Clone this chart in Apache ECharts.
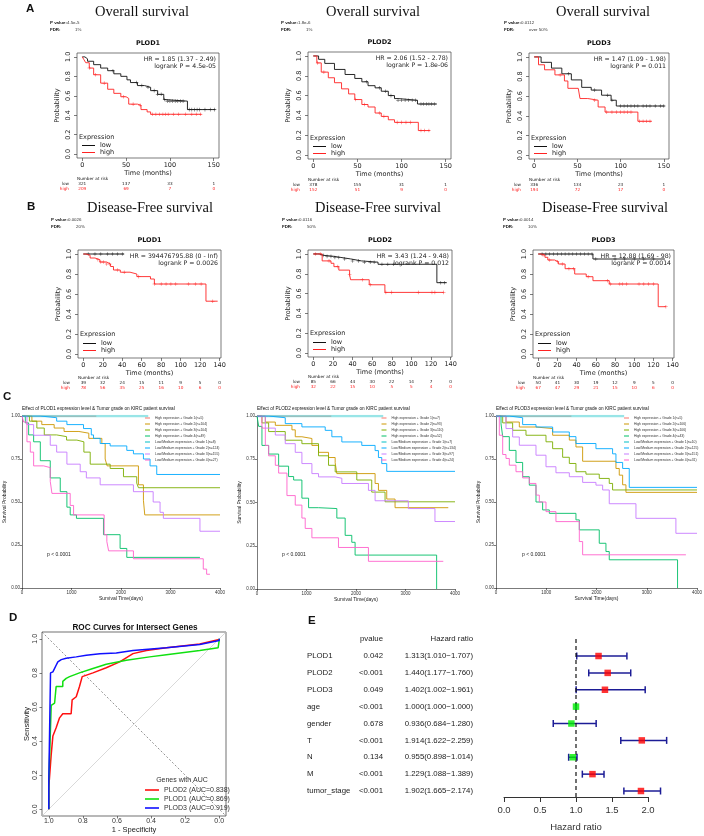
<!DOCTYPE html>
<html><head><meta charset="utf-8">
<script src="https://cdn.jsdelivr.net/npm/echarts@6/dist/echarts.min.js"></script>
<style>html,body{margin:0;padding:0;background:#fff}#c{width:704px;height:836px}</style>
</head><body><div id="c"></div>
<script>
// ================= DATA =================
// Panel A – Overall survival (months, probability)
const kmTicksA = [0, 50, 100, 150];
const kmTicksB = [0, 20, 40, 60, 80, 100, 120, 140];
const probTicks = [0, 0.2, 0.4, 0.6, 0.8, 1.0];

const osLowPLOD1 = [[0,1],[3,0.98],[6,0.955],[13,0.92],[21,0.885],[29,0.858],[36,0.826],[44,0.80],[51,0.764],[55,0.736],[63,0.705],[71,0.687],[78,0.653],[86,0.615],[93,0.562],[95,0.545],[120,0.458],[152,0.458]];
const osHighPLOD1 = [[0,1],[2,0.97],[4,0.94],[8,0.885],[13,0.816],[21,0.73],[29,0.667],[36,0.625],[44,0.59],[50,0.573],[53,0.514],[63,0.503],[67,0.458],[74,0.434],[78,0.41],[136,0.41]];
const osLowPLOD2 = [[0,1],[6,0.966],[13,0.925],[24,0.864],[36,0.813],[47,0.773],[55,0.739],[62,0.70],[70,0.678],[77,0.644],[85,0.60],[92,0.57],[96,0.553],[118,0.515],[140,0.515]];
const osHighPLOD2 = [[0,1],[4,0.93],[9,0.837],[17,0.78],[24,0.73],[32,0.668],[40,0.617],[47,0.56],[55,0.51],[62,0.485],[70,0.424],[77,0.39],[85,0.356],[92,0.33],[119,0.247],[132,0.247]];
const osLowPLOD3 = [[0,1],[8,0.945],[20,0.886],[32,0.828],[43,0.766],[55,0.69],[66,0.662],[78,0.61],[89,0.559],[95,0.50],[151,0.50]];
const osHighPLOD3 = [[0,1],[5,0.92],[12,0.869],[24,0.817],[35,0.755],[39,0.68],[51,0.662],[53,0.576],[62,0.559],[74,0.49],[82,0.438],[120,0.345],[136,0.345]];

const osCensLowPLOD1 = [35,62,68,75,82,86,90,94,97,100,103,106,109,112,115,122,125,128,131,134,140,146,151];
const osCensHighPLOD1 = [8,15,25,47,58,66,80,84,88,92,95,98,104,110,118,125,130,135];
const osCensLowPLOD2 = [60,75,82,88,96,100,104,108,112,116,122,125,128,131,134,137];
const osCensHighPLOD2 = [5,12,48,58,75,80,95,100,105,110,122,126,131];
const osCensLowPLOD3 = [40,70,85,90,100,104,108,112,116,120,126,130,134,140,146,150];
const osCensHighPLOD3 = [30,70,84,90,95,100,104,108,112,122,126,130,134];

const osRiskLowPLOD1 = [321,137,33,1], osRiskHighPLOD1 = [209,69,7,0];
const osRiskLowPLOD2 = [378,155,31,1], osRiskHighPLOD2 = [152,51,9,0];
const osRiskLowPLOD3 = [336,134,23,1], osRiskHighPLOD3 = [194,72,17,0];

const osPvalues = ['4.5e-5','1.8e-6','0.0112'];
const osFdr = ['1%','1%','over 50%'];
const osHrText = ['HR = 1.85 (1.37 - 2.49)','HR = 2.06 (1.52 - 2.78)','HR = 1.47 (1.09 - 1.98)'];
const osLogrank = ['logrank P = 4.5e-05','logrank P = 1.8e-06','logrank P = 0.011'];

// Panel B – Disease-free survival
const dfsLowPLOD1 = [[0,1],[42,1]];
const dfsHighPLOD1 = [[0,1],[3,0.987],[7,0.96],[12,0.943],[17,0.92],[24,0.90],[28,0.875],[31,0.84],[38,0.818],[48,0.80],[55,0.774],[69,0.75],[73,0.70],[126,0.528],[138,0.528]];
const dfsLowPLOD2 = [[0,1],[6,0.986],[11,0.976],[21,0.965],[28,0.95],[38,0.93],[49,0.917],[66,0.896],[126,0.71],[136,0.71]];
const dfsHighPLOD2 = [[0,1],[9,0.93],[18,0.906],[21,0.872],[26,0.837],[37,0.79],[38,0.74],[57,0.689],[73,0.612],[133,0.612]];
const dfsLowPLOD3 = [[0,1],[57,0.95],[132,0.95]];
const dfsHighPLOD3 = [[0,1],[3,0.99],[7,0.967],[10,0.94],[17,0.923],[21,0.90],[28,0.853],[38,0.80],[50,0.773],[57,0.733],[74,0.70],[125,0.473],[133,0.473]];

const dfsCensLowPLOD1 = [5,12,18,25,30,35,40];
const dfsCensHighPLOD1 = [15,18,21,24,27,35,42,57,73,80,85,90,95,108,115,121,133];
const dfsCensLowPLOD2 = [10,14,18,22,26,32,40,46,52,58,62,70,76,82,130,134];
const dfsCensHighPLOD2 = [2,7,16,25,37,50,58,74,80,107,121,124,133];
const dfsCensLowPLOD3 = [4,8,12,16,20,24,28,32,36,40,44,48,52,56,60,80,90,100,110,120];
const dfsCensHighPLOD3 = [5,12,20,25,32,37,52,72,75,85,88,92,105,110,115,120,133];

const dfsRiskLowPLOD1 = [39,32,24,15,11,9,5,0], dfsRiskHighPLOD1 = [78,56,35,25,16,10,6,0];
const dfsRiskLowPLOD2 = [85,66,44,30,22,14,7,0], dfsRiskHighPLOD2 = [32,22,15,10,5,5,4,0];
const dfsRiskLowPLOD3 = [50,41,30,19,12,9,5,0], dfsRiskHighPLOD3 = [67,47,29,21,15,10,6,0];

const dfsPvalues = ['0.0026','0.0116','0.0014'];
const dfsFdr = ['20%','50%','10%'];
const dfsHrText = ['HR = 394476795.88 (0 - Inf)','HR = 3.43 (1.24 - 9.48)','HR = 12.88 (1.69 - 98)'];
const dfsLogrank = ['logrank P = 0.0026','logrank P = 0.012','logrank P = 0.0014'];

const genes = ['PLOD1','PLOD2','PLOD3'];

// Panel C – expression & grade (days, probability); order: High G1..G4, Low/Medium G1..G4
const c1HighG1 = [[0,1],[1500,1]];
const c1HighG2 = [[0,1],[200,0.97],[400,0.95],[650,0.93],[850,0.91],[1150,0.90],[1350,0.87],[1613,0.84],[1680,0.75],[1720,0.71],[2352,0.60],[2453,0.51],[2480,0.425],[4000,0.425]];
const c1HighG3 = [[0,1],[150,0.97],[300,0.93],[450,0.89],[700,0.88],[900,0.86],[1109,0.85],[1250,0.79],[1378,0.72],[1781,0.695],[2050,0.647],[2318,0.61],[2352,0.583],[4000,0.583]];
const c1HighG4 = [[0,1],[67,0.96],[134,0.89],[235,0.85],[370,0.74],[571,0.64],[773,0.56],[907,0.47],[974,0.425],[1100,0.405],[1646,0.31],[1982,0.23],[2117,0.178],[3595,0.178]];
const c1LowG1 = [[0,1],[2550,1]];
const c1LowG2 = [[0,1],[370,0.99],[700,0.97],[907,0.95],[1243,0.927],[1400,0.89],[1445,0.87],[1579,0.84],[1781,0.826],[2117,0.80],[2251,0.78],[2453,0.75],[2587,0.71],[2722,0.66],[4000,0.66]];
const c1LowG3 = [[0,1],[100,0.95],[235,0.888],[571,0.83],[700,0.79],[907,0.72],[1176,0.676],[1300,0.64],[1579,0.60],[2251,0.56],[2650,0.50],[2789,0.44],[2856,0.405],[3595,0.33],[4000,0.33]];
const c1LowG4 = [[0,1],[34,0.965],[100,0.85],[168,0.79],[235,0.71],[437,0.70],[571,0.62],[605,0.55],[974,0.48],[1042,0.425],[1660,0.31],[1714,0.27],[1750,0.216],[2251,0.17],[3662,0.11],[3730,0.08],[3797,0.08]];

const c2HighG1 = [[0,1],[1500,1]];
const c2HighG2 = [[0,1],[168,0.965],[370,0.946],[706,0.92],[773,0.88],[907,0.87],[1109,0.83],[1243,0.79],[1445,0.76],[1579,0.73],[1613,0.667],[2386,0.61],[2453,0.57],[2621,0.52],[2789,0.47],[3864,0.47]];
const c2HighG3 = [[0,1],[100,0.96],[235,0.91],[571,0.86],[907,0.84],[1243,0.77],[1445,0.715],[1579,0.677],[2016,0.63],[2318,0.56],[2587,0.504],[4000,0.504]];
const c2HighG4 = [[0,1],[34,0.94],[100,0.83],[235,0.78],[437,0.71],[638,0.65],[740,0.63],[907,0.525],[1042,0.47],[1243,0.465],[1613,0.41],[1781,0.31],[1915,0.27],[1982,0.196],[3629,0.0]];
const c2LowG1 = [[0,1],[2550,1]];
const c2LowG2 = [[0,1],[235,0.99],[571,0.956],[907,0.937],[1378,0.917],[1512,0.88],[1714,0.85],[2117,0.83],[2386,0.80],[2453,0.76],[2520,0.725],[2621,0.68],[4000,0.68]];
const c2LowG3 = [[0,1],[168,0.93],[370,0.89],[571,0.84],[773,0.79],[907,0.725],[1109,0.667],[1243,0.648],[1579,0.64],[1714,0.61],[2251,0.57],[2386,0.51],[3057,0.465],[3595,0.39],[4000,0.39]];
const c2LowG4 = [[0,1],[100,0.93],[168,0.83],[235,0.77],[370,0.715],[437,0.67],[605,0.54],[773,0.485],[907,0.41],[974,0.35],[1109,0.296],[1646,0.24],[2251,0.16],[3763,0.16]];

const c3HighG1 = [[0,1],[1500,1]];
const c3HighG2 = [[0,1],[199,0.965],[464,0.936],[796,0.927],[1127,0.888],[1459,0.86],[1591,0.82],[1724,0.737],[2387,0.695],[2453,0.656],[2520,0.60],[2586,0.556],[4000,0.556]];
const c3HighG3 = [[0,1],[133,0.96],[331,0.917],[597,0.888],[995,0.85],[1127,0.81],[1326,0.76],[1459,0.724],[1591,0.676],[1790,0.662],[2055,0.637],[2254,0.608],[2320,0.57],[4000,0.57]];
const c3HighG4 = [[0,1],[100,0.955],[133,0.88],[265,0.80],[398,0.73],[530,0.647],[663,0.598],[796,0.50],[928,0.454],[1061,0.434],[1591,0.396],[1658,0.338],[2055,0.26],[2188,0.212],[2254,0.164],[3613,0.0]];
const c3LowG1 = [[0,1],[2550,1]];
const c3LowG2 = [[0,1],[265,0.99],[530,0.95],[796,0.936],[1127,0.907],[1459,0.88],[1591,0.84],[1989,0.81],[2320,0.78],[2387,0.73],[2520,0.695],[2652,0.585],[4000,0.585]];
const c3LowG3 = [[0,1],[199,0.927],[331,0.878],[464,0.83],[796,0.772],[995,0.705],[1193,0.67],[1459,0.647],[1724,0.614],[1989,0.598],[2122,0.57],[2254,0.49],[2785,0.405],[3580,0.318],[4000,0.318]];
const c3LowG4 = [[0,1],[66,0.888],[133,0.776],[199,0.753],[265,0.714],[398,0.676],[530,0.64],[663,0.608],[796,0.54],[862,0.50],[995,0.444],[1193,0.386],[1658,0.27],[1724,0.193],[3779,0.193]];

const c1Labels = ['High expression + Grade 1(n=5)','High expression + Grade 2(n=104)','High expression + Grade 3(n=104)','High expression + Grade 4(n=49)','Low/Medium expression + Grade 1(n=8)','Low/Medium expression + Grade 2(n=124)','Low/Medium expression + Grade 3(n=155)','Low/Medium expression + Grade 4(n=27)'];
const c2Labels = ['High expression + Grade 1(n=7)','High expression + Grade 2(n=93)','High expression + Grade 3(n=110)','High expression + Grade 4(n=52)','Low/Medium expression + Grade 1(n=7)','Low/Medium expression + Grade 2(n=134)','Low/Medium expression + Grade 3(n=97)','Low/Medium expression + Grade 4(n=24)'];
const c3Labels = ['High expression + Grade 1(n=5)','High expression + Grade 2(n=106)','High expression + Grade 3(n=106)','High expression + Grade 4(n=43)','Low/Medium expression + Grade 1(n=10)','Low/Medium expression + Grade 2(n=125)','Low/Medium expression + Grade 3(n=151)','Low/Medium expression + Grade 4(n=31)'];

// Panel D – ROC (x = specificity shown 1 → 0, y = sensitivity)
const rocTicks = [0,0.2,0.4,0.6,0.8,1.0];
const rocPLOD2 = [[1,0],[1,0.13],[0.992,0.13],[0.986,0.32],[0.976,0.43],[0.957,0.478],[0.937,0.536],[0.918,0.56],[0.869,0.56],[0.863,0.642],[0.839,0.66],[0.82,0.72],[0.804,0.778],[0.741,0.80],[0.663,0.83],[0.584,0.865],[0.506,0.913],[0.427,0.932],[0.31,0.948],[0.114,0.97],[0,0.996],[0,1]];
const rocPLOD1 = [[1,0],[1,0.16],[0.996,0.16],[0.986,0.61],[0.966,0.623],[0.957,0.72],[0.918,0.72],[0.918,0.75],[0.898,0.768],[0.878,0.778],[0.82,0.80],[0.741,0.826],[0.663,0.851],[0.545,0.874],[0.408,0.894],[0.31,0.907],[0.114,0.932],[0.006,0.948],[0,0.99],[0,1]];
const rocPLOD3 = [[1,0],[1,0.17],[0.992,0.17],[0.99,0.80],[0.976,0.806],[0.966,0.816],[0.957,0.845],[0.947,0.865],[0.927,0.878],[0.898,0.886],[0.839,0.894],[0.78,0.903],[0.70,0.913],[0.604,0.917],[0.506,0.932],[0.31,0.948],[0.114,0.967],[0,0.99],[0,1]];
const rocNames = ['PLOD2 (AUC=0.838)','PLOD1 (AUC=0.869)','PLOD3 (AUC=0.919)'];
const rocDiagDashed = [[1.04,1.04],[-0.04,-0.04]];
const rocDiagSolid = [[1.04,-0.04],[-0.04,1.04]];

// Panel E – forest plot
const hrNames = ['PLOD1','PLOD2','PLOD3','age','gender','T','N','M','tumor_stage'];
const hrPvals = ['0.042','<0.001','0.049','<0.001','0.678','<0.001','0.134','<0.001','<0.001'];
const hrVal = [1.313,1.440,1.402,1.000,0.936,1.914,0.955,1.229,1.902];
const hrLow = [1.010,1.177,1.002,1.000,0.684,1.622,0.898,1.088,1.665];
const hrHigh = [1.707,1.760,1.961,1.000,1.280,2.259,1.014,1.389,2.174];

// ================= BUILD =================
const grids = [], xAxes = [], yAxes = [], series = [], legends = [], gfx = [];
const RF = 'DejaVu Sans', SF = 'Liberation Sans', TF = 'Liberation Serif';
function text(x, y, str, o) {
  gfx.push({type:'text', x, y, silent:true, z:100,
    style:Object.assign({text:str, fill:'#111', fontSize:6, fontFamily:RF, align:'left', verticalAlign:'middle'}, o||{})});
}
const plusPath = 'path://M-1,-0.14H-0.14V-1H0.14V-0.14H1V0.14H0.14V1H-0.14V0.14H-1Z';
function stepAt(curve, t) { let v = curve[0][1]; for (const [x,y] of curve) { if (x <= t) v = y; else break; } return v; }

function km(L, d) {
  const [l,t,w,h] = L.box;
  const gi = grids.length;
  grids.push({left:l, top:t, width:w, height:h, show:true, borderColor:'#444', borderWidth:0.7, backgroundColor:'rgba(0,0,0,0)', outerBoundsMode:'none'});
  const xmin = -0.04*d.range, xmax = 1.04*d.range;
  const xi = xAxes.length;
  xAxes.push({gridIndex:gi, type:'value', min:xmin, max:xmax, axisLine:{show:false,onZero:false}, splitLine:{show:false},
    axisTick:{show:true, length:3, customValues:d.ticks, lineStyle:{color:'#444',width:0.7}},
    axisLabel:{customValues:d.ticks, fontSize:6.5, fontFamily:RF, color:'#222', margin:3.5},
    name:'Time (months)', nameLocation:'middle', nameGap:11.5, nameTextStyle:{fontSize:6.5, fontFamily:RF, color:'#222'}});
  const riskAxis = (vals, off, nm, color) => xAxes.push({gridIndex:gi, type:'value', position:'bottom', offset:off, min:xmin, max:xmax,
    axisLine:{show:false,onZero:false}, axisTick:{show:false}, splitLine:{show:false},
    axisLabel:{customValues:d.ticks, formatter:(v)=>String(vals[d.ticks.indexOf(v)]), fontSize:4.2, fontFamily:RF, color, margin:0, verticalAlign:'middle'},
    name:nm, nameLocation:'start', nameGap:8, nameTextStyle:{fontSize:4.2, fontFamily:RF, color, verticalAlign:'middle'}});
  riskAxis(d.riskLow, L.riskOff[0], 'low', '#222');
  riskAxis(d.riskHigh, L.riskOff[1], 'high', '#FF2222');
  const yi = yAxes.length;
  yAxes.push({gridIndex:gi, type:'value', min:-0.04, max:1.04, axisLine:{show:false,onZero:false}, splitLine:{show:false},
    axisTick:{show:true, length:3, customValues:probTicks, lineStyle:{color:'#444',width:0.7}},
    axisLabel:{customValues:probTicks, formatter:v=>v.toFixed(1), rotate:90, fontSize:6.5, fontFamily:RF, color:'#222', margin:5},
    name:'Probability', nameLocation:'middle', nameGap:16, nameTextStyle:{fontSize:6.5, fontFamily:RF, color:'#222'}});
  const add = (data, cens, color, nm) => {
    series.push({type:'line', name:nm, xAxisIndex:xi, yAxisIndex:yi, data, step:'end', symbol:'none', silent:true,
      lineStyle:{color, width:0.9}, itemStyle:{color}});
    series.push({type:'scatter', xAxisIndex:xi, yAxisIndex:yi, data:cens.map(c=>[c, stepAt(data,c)]), symbol:plusPath, symbolSize:3.6, silent:true, itemStyle:{color}});
  };
  add(d.low, d.censLow, '#111', d.id+'|low');
  add(d.high, d.censHigh, '#FF2222', d.id+'|high');
  legends.push({left:l+5, top:t+h-L.legOff, orient:'vertical', icon:'rect', itemWidth:13, itemHeight:1, itemGap:0, padding:0, selectedMode:false,
    data:[d.id+'|low', d.id+'|high'], formatter:n=>n.split('|')[1], textStyle:{fontSize:6.5, lineHeight:6, fontFamily:RF, color:'#222'}});
  text(l+2, t+h-L.exprOff, 'Expression', {fontSize:6.5, fill:'#222'});
  // headings
  text(L.tx, L.ty, d.title, {fontFamily:TF, fontSize:14.5, align:'center'});
  text(L.px, L.py, 'P value:', {fontFamily:SF, fontSize:4.4, fontWeight:'bold'});
  text(L.px+17, L.py, d.pval, {fontFamily:SF, fontSize:4.4, fill:'#333'});
  text(L.px, L.py+7, 'FDR:', {fontFamily:SF, fontSize:4.4, fontWeight:'bold'});
  text(L.px+25, L.py+7, d.fdr, {fontFamily:SF, fontSize:4.4, fill:'#333'});
  text(l+w/2, t-9.5, d.gene, {fontSize:6.5, fontWeight:'bold', align:'center'});
  text(l+w-3, t+6, d.hr, {fontSize:6.2, align:'right', fill:'#222'});
  text(l+w-3, t+13.5, d.lr, {fontSize:6.2, align:'right', fill:'#222'});
  text(l, t+h+L.narOff, 'Number at risk', {fontSize:4.2, fill:'#222'});
}

const aLayout = [
  {box:[77,53,142,105], tx:142, ty:12, px:50, py:23},
  {box:[308,52,143,107], tx:373, ty:12, px:281, py:23},
  {box:[529,53,140,106], tx:603, ty:12, px:504, py:23}];
const bLayout = [
  {box:[78,250,143,108], tx:150, ty:208, px:51, py:220},
  {box:[308,250,144,107], tx:378, ty:208, px:282, py:220},
  {box:[533,250,141,108], tx:605, ty:208, px:503, py:220}];
aLayout.forEach(L => Object.assign(L, {riskOff:[26,31], narOff:21, legOff:16, exprOff:21}));
bLayout.forEach(L => Object.assign(L, {riskOff:[24.5,30], narOff:20, legOff:18, exprOff:24}));

const osLow = [osLowPLOD1, osLowPLOD2, osLowPLOD3], osHigh = [osHighPLOD1, osHighPLOD2, osHighPLOD3];
const osCL = [osCensLowPLOD1, osCensLowPLOD2, osCensLowPLOD3], osCH = [osCensHighPLOD1, osCensHighPLOD2, osCensHighPLOD3];
const osRL = [osRiskLowPLOD1, osRiskLowPLOD2, osRiskLowPLOD3], osRH = [osRiskHighPLOD1, osRiskHighPLOD2, osRiskHighPLOD3];
const dfsLow = [dfsLowPLOD1, dfsLowPLOD2, dfsLowPLOD3], dfsHigh = [dfsHighPLOD1, dfsHighPLOD2, dfsHighPLOD3];
const dfsCL = [dfsCensLowPLOD1, dfsCensLowPLOD2, dfsCensLowPLOD3], dfsCH = [dfsCensHighPLOD1, dfsCensHighPLOD2, dfsCensHighPLOD3];
const dfsRL = [dfsRiskLowPLOD1, dfsRiskLowPLOD2, dfsRiskLowPLOD3], dfsRH = [dfsRiskHighPLOD1, dfsRiskHighPLOD2, dfsRiskHighPLOD3];

for (let i = 0; i < 3; i++) {
  km(aLayout[i], {id:'A'+i, range:150, ticks:kmTicksA, low:osLow[i], high:osHigh[i], censLow:osCL[i], censHigh:osCH[i],
    riskLow:osRL[i], riskHigh:osRH[i], title:'Overall survival', pval:osPvalues[i], fdr:osFdr[i], gene:genes[i], hr:osHrText[i], lr:osLogrank[i]});
  km(bLayout[i], {id:'B'+i, range:136, ticks:kmTicksB, low:dfsLow[i], high:dfsHigh[i], censLow:dfsCL[i], censHigh:dfsCH[i],
    riskLow:dfsRL[i], riskHigh:dfsRH[i], title:'Disease-Free survival', pval:dfsPvalues[i], fdr:dfsFdr[i], gene:genes[i], hr:dfsHrText[i], lr:dfsLogrank[i]});
}

// ---- Panel C
const cColors = ['#F8766D','#CD9600','#7CAE00','#00BE67','#00BFC4','#00A9FF','#C77CFF','#FF61CC'];
const cLayout = [
  {left:22, top:416, w:198, h:172, legLeft:145, pX:47},
  {left:257, top:416, w:198, h:173, legLeft:381.5, pX:282},
  {left:496, top:416, w:201, h:172, legLeft:624, pX:522}];
const cCurves = [
  [c1HighG1,c1HighG2,c1HighG3,c1HighG4,c1LowG1,c1LowG2,c1LowG3,c1LowG4],
  [c2HighG1,c2HighG2,c2HighG3,c2HighG4,c2LowG1,c2LowG2,c2LowG3,c2LowG4],
  [c3HighG1,c3HighG2,c3HighG3,c3HighG4,c3LowG1,c3LowG2,c3LowG3,c3LowG4]];
const cLabels = [c1Labels, c2Labels, c3Labels];
const drawOrder = [0,4,1,2,3,6,7,5];
cLayout.forEach((L, k) => {
  const gi = grids.length;
  grids.push({left:L.left, top:L.top, width:L.w, height:L.h, outerBoundsMode:'none'});
  const xi = xAxes.length, yi = yAxes.length;
  xAxes.push({gridIndex:gi, type:'value', min:0, max:4000, interval:1000, axisLine:{show:true,onZero:false,lineStyle:{color:'#222',width:0.6}},
    axisTick:{show:true,length:2,lineStyle:{color:'#222',width:0.6}}, splitLine:{show:false},
    axisLabel:{fontSize:4.5, fontFamily:SF, color:'#333', margin:2, formatter:v=>String(v)},
    name:'Survival Time(days)', nameLocation:'middle', nameGap:7.5, nameTextStyle:{fontSize:5, fontFamily:SF, color:'#222'}});
  yAxes.push({gridIndex:gi, type:'value', min:0, max:1, interval:0.25, axisLine:{show:true,onZero:false,lineStyle:{color:'#222',width:0.6}},
    axisTick:{show:true,length:2,lineStyle:{color:'#222',width:0.6}}, splitLine:{show:false},
    axisLabel:{fontSize:4.5, fontFamily:SF, color:'#333', margin:2, formatter:v=>v.toFixed(2)},
    name:'Survival Probability', nameLocation:'middle', nameGap:12, nameTextStyle:{fontSize:5, fontFamily:SF, color:'#222'}});
  const names = cLabels[k].map(s => 'C'+k+'|'+s);
  drawOrder.forEach(i => {
    const isBand = i === 4;
    series.push({type:'line', name:names[i], xAxisIndex:xi, yAxisIndex:yi, data:cCurves[k][i], step:'end', symbol:'none', silent:true,
      lineStyle:{color:cColors[i], width:isBand?2.6:0.9, opacity:isBand?0.4:1}, itemStyle:{color:cColors[i]}});
  });
  legends.push({left:L.legLeft, top:415, orient:'vertical', icon:'rect', itemWidth:5, itemHeight:1, itemGap:0, padding:0, selectedMode:false,
    data:names, formatter:n=>n.split('|')[1], textStyle:{fontSize:3.4, lineHeight:6, fontFamily:SF, color:'#333'}});
  text(L.left, 409, 'Effect of '+genes[k]+' expression level & Tumor grade on KIRC patient survival', {fontFamily:SF, fontSize:4.7, fill:'#111'});
  text(L.pX, 555, 'p < 0.0001', {fontFamily:SF, fontSize:5, fill:'#222'});
});

// ---- Panel D
{
  const gi = grids.length;
  grids.push({left:42, top:632, width:184, height:184, show:true, borderColor:'#333', borderWidth:0.7, backgroundColor:'rgba(0,0,0,0)', outerBoundsMode:'none'});
  const xi = xAxes.length, yi = yAxes.length;
  xAxes.push({gridIndex:gi, type:'value', min:-0.04, max:1.04, inverse:true, axisLine:{show:false,onZero:false}, splitLine:{show:false},
    axisTick:{show:true,length:2.5,customValues:rocTicks,lineStyle:{color:'#444',width:0.7}},
    axisLabel:{customValues:rocTicks, formatter:v=>v.toFixed(1), fontSize:7, fontFamily:SF, color:'#333', margin:2},
    name:'1 - Specificity', nameLocation:'middle', nameGap:8.5, nameTextStyle:{fontSize:7.5, fontFamily:SF, color:'#222'}});
  yAxes.push({gridIndex:gi, type:'value', min:-0.04, max:1.04, axisLine:{show:false,onZero:false}, splitLine:{show:false},
    axisTick:{show:true,length:2.5,customValues:rocTicks,lineStyle:{color:'#444',width:0.7}},
    axisLabel:{customValues:rocTicks, formatter:v=>v.toFixed(1), rotate:90, fontSize:7, fontFamily:SF, color:'#333', margin:3.5},
    name:'Sensitivity', nameLocation:'middle', nameGap:8.5, nameTextStyle:{fontSize:7.5, fontFamily:SF, color:'#222'}});
  series.push({type:'line', xAxisIndex:xi, yAxisIndex:yi, data:rocDiagSolid, symbol:'none', silent:true, lineStyle:{color:'#c8c8c8', width:0.7}});
  series.push({type:'line', xAxisIndex:xi, yAxisIndex:yi, data:rocDiagDashed, symbol:'none', silent:true, lineStyle:{color:'#666', width:0.7, type:[2,2]}});
  const rc = ['#FF1010','#10E010','#1010FF'];
  [rocPLOD2, rocPLOD1, rocPLOD3].forEach((d,i) => series.push({type:'line', name:rocNames[i], xAxisIndex:xi, yAxisIndex:yi, data:d, symbol:'none', silent:true,
    lineStyle:{color:rc[i], width:1.5}, itemStyle:{color:rc[i]}}));
  legends.push({left:145, top:785.5, orient:'vertical', icon:'rect', itemWidth:14, itemHeight:1.6, itemGap:0, padding:0, selectedMode:false,
    data:rocNames, textStyle:{fontSize:7, lineHeight:9, fontFamily:SF, color:'#333'}});
  text(182, 780, 'Genes with AUC', {fontFamily:SF, fontSize:7, fill:'#333', align:'center'});
  text(135, 628, 'ROC Curves for Intersect Genes', {fontFamily:SF, fontSize:8.2, fontWeight:'bold', align:'center'});
}

// ---- Panel E
{
  const rowKeys = ['hdr'].concat(hrNames);
  const nameLab = [''].concat(hrNames);
  const pLab = ['pvalue'].concat(hrPvals);
  const hrLab = ['Hazard ratio'].concat(hrVal.map((v,i)=>v.toFixed(3)+'('+hrLow[i].toFixed(3)+'\u2212'+hrHigh[i].toFixed(3)+')'));
  const gi = grids.length;
  grids.push({left:504, top:630.7, width:165.6, height:168.75, outerBoundsMode:'none'});
  const xi = xAxes.length;
  xAxes.push({gridIndex:gi, type:'value', min:0, max:2.3, show:false});
  const yBase = yAxes.length;
  const catAxis = (labels, margin, align) => yAxes.push({gridIndex:gi, type:'category', position:'left', offset:0, data:rowKeys, inverse:true,
    axisLine:{show:false,onZero:false}, axisTick:{show:false}, splitLine:{show:false},
    axisLabel:{interval:0, margin, align, fontSize:7.8, fontFamily:SF, color:'#222', formatter:(v,i)=>labels[i]}});
  catAxis(nameLab, 197, 'left');
  catAxis(pLab, 121, 'right');
  catAxis(hrLab, 31, 'right');
  series.push({type:'custom', xAxisIndex:xi, yAxisIndex:yBase, silent:true,
    data:hrLow.map((lo,i)=>[lo, hrHigh[i], hrNames[i]]), encode:{x:[0,1], y:2},
    renderItem:(params, api) => {
      const y = api.value(2);
      const p1 = api.coord([api.value(0), y]), p2 = api.coord([api.value(1), y]);
      const c = 3.5, st = {stroke:'#1C1C96', lineWidth:1.5};
      return {type:'group', children:[
        {type:'line', shape:{x1:p1[0],y1:p1[1],x2:p2[0],y2:p2[1]}, style:st},
        {type:'line', shape:{x1:p1[0],y1:p1[1]-c,x2:p1[0],y2:p1[1]+c}, style:st},
        {type:'line', shape:{x1:p2[0],y1:p2[1]-c,x2:p2[0],y2:p2[1]+c}, style:st}]};
    }});
  series.push({type:'scatter', xAxisIndex:xi, yAxisIndex:yBase, silent:true, data:hrVal.map((v,i)=>[v, hrNames[i]]), symbol:'rect', symbolSize:6.5,
    itemStyle:{color:(p)=> hrVal[p.dataIndex] > 1 ? '#FF0000' : '#00EE00'}, z:5});
  // axis grid
  const ga = grids.length;
  grids.push({left:504, top:636, width:144, height:161, outerBoundsMode:'none'});
  const xa = xAxes.length, ya = yAxes.length;
  xAxes.push({gridIndex:ga, type:'value', min:0, max:2, interval:0.5, axisLine:{show:true,onZero:false,lineStyle:{color:'#333',width:1}},
    axisTick:{show:true,length:5,lineStyle:{color:'#333',width:1}}, splitLine:{show:false},
    axisLabel:{fontSize:9.5, fontFamily:SF, color:'#333', margin:8, formatter:v=>v.toFixed(1)},
    name:'Hazard ratio', nameLocation:'middle', nameGap:25, nameTextStyle:{fontSize:9.5, fontFamily:SF, color:'#333'}});
  yAxes.push({gridIndex:ga, type:'value', min:0, max:1, show:false});
  series.push({type:'line', xAxisIndex:xa, yAxisIndex:ya, data:[[1,0],[1,1]], symbol:'none', silent:true, lineStyle:{color:'#111', width:1.2, type:[4,3]}});
}

// panel letters
[['A',26,9],['B',27,207],['C',3,397],['D',9,618],['E',308,621]].forEach(([s,x,y]) => text(x, y, s, {fontFamily:SF, fontWeight:'bold', fontSize:11.5}));

const chart = echarts.init(document.getElementById('c'), null, {renderer:'canvas'});
chart.setOption({animation:false, backgroundColor:'#fff', grid:grids, xAxis:xAxes, yAxis:yAxes, series, legend:legends, graphic:gfx});
</script></body></html>
